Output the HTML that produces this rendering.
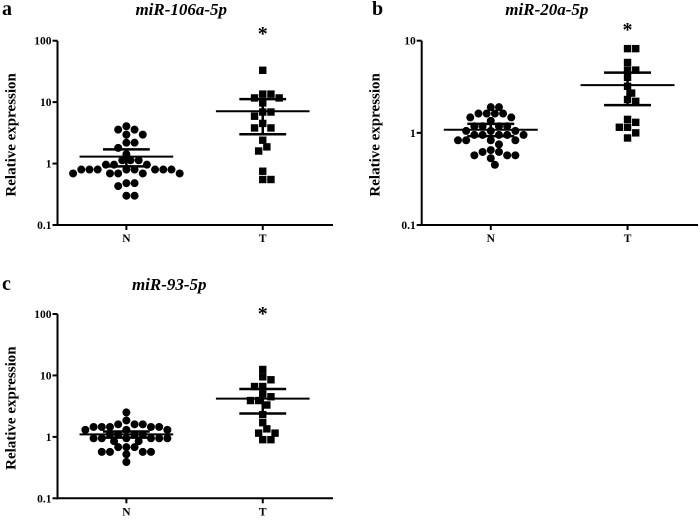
<!DOCTYPE html>
<html><head><meta charset="utf-8"><style>
body{margin:0;background:#fff}
svg{display:block;font-family:"Liberation Serif",serif}
</style></head><body>
<svg id="chart" width="700" height="525" viewBox="0 0 700 525"></svg>
<script>
// Panel a
const aN = [4.05,3.57,3.57,2.96,2.96,2.19,2.19,1.8,1.42,1.13,1.13,1.13,0.96,0.96,0.96,0.8,0.8,0.8,0.8,0.8,0.8,0.8,0.8,0.69,0.69,0.69,0.69,0.69,0.48,0.48,0.43,0.3,0.3];
const aT = [33,13.5,13.5,11.7,11.7,9.7,6.9,6.9,5.9,4.5,3.8,3.8,2.4,1.87,1.6,0.75,0.55,0.55];
const aStats = [[1.3,1.7,0.9],[7.1,11.2,3.0]]; // mean, upper, lower
// Panel b
const bN = [1.9,1.9,1.62,1.62,1.62,1.62,1.47,1.47,1.35,1.18,1.18,1.18,1.18,1.05,1.05,1.05,0.95,0.95,0.95,0.95,0.95,0.83,0.83,0.83,0.83,0.75,0.65,0.62,0.62,0.57,0.57,0.57,0.53,0.45];
const bT = [8.2,8.2,5.8,4.8,4.8,4.0,3.2,2.7,2.3,2.2,1.4,1.3,1.15,1.15,1.0,0.88];
const bStats = [[1.08,1.25,0.92],[3.3,4.5,2.0]];
// Panel c
const cN = [2.5,1.85,1.6,1.6,1.6,1.45,1.45,1.45,1.45,1.45,1.3,1.3,1.3,1.1,1.1,1.1,1.1,0.95,0.95,0.95,0.95,0.95,0.95,0.85,0.85,0.68,0.68,0.68,0.57,0.57,0.57,0.57,0.52,0.39];
const cT = [12.5,9.5,8.5,6.6,6.6,5.0,4.5,3.9,3.9,3.3,2.3,1.7,1.35,1.15,1.15,0.9,0.9];
const cStats = [[1.1,1.22,0.97],[4.2,6.0,2.4]];
const categories = ["N","T"];
const tickA = ["0.1","1","10","100"];
const tickB = ["0.1","1","10"];

const NS="http://www.w3.org/2000/svg";
const svg=document.getElementById('chart');
function mk(tag,attrs,parent){const e=document.createElementNS(NS,tag);for(const k in attrs)e.setAttribute(k,attrs[k]);(parent||svg).appendChild(e);return e;}

function panel(cfg){
  const g=mk('g',{});
  
  
  const decades=cfg.ticks.length-1;
  const y=v=>cfg.y0-(Math.log10(v)-Math.log10(0.1))/decades*(cfg.y0-cfg.yTop);
  const xc=[cfg.x0+(cfg.x1-cfg.x0)*0.25,cfg.x0+(cfg.x1-cfg.x0)*0.745];
  const ya=mk('line',{x1:cfg.x0,x2:cfg.x0,y1:cfg.yTop,y2:cfg.y0+1,stroke:'#000','stroke-width':2},g);
  
  const xa=mk('line',{x1:cfg.x0-1,x2:cfg.x1,y1:cfg.y0,y2:cfg.y0,stroke:'#000','stroke-width':2},g);
  
  cfg.ticks.forEach((t,i)=>{
    const v=Math.pow(10,i-1), yy=y(v);
    mk('line',{x1:cfg.x0-5,x2:cfg.x0,y1:yy,y2:yy,stroke:'#000','stroke-width':2},g);
    const tx=mk('text',{x:cfg.x0-6,y:yy+4,'text-anchor':'end','font-size':11.5,'font-weight':'bold'},g);
    tx.textContent=t;
    
  });
  categories.forEach((c,i)=>{
    mk('line',{x1:xc[i],x2:xc[i],y1:cfg.y0,y2:cfg.y0+5,stroke:'#000','stroke-width':2},g);
    const tx=mk('text',{x:xc[i],y:cfg.y0+17,'text-anchor':'middle','font-size':11.5,'font-weight':'bold'},g);
    tx.textContent=c;
    
  });
  const yt=mk('text',{x:0,y:0,transform:`translate(${cfg.x0-42},${(cfg.y0+cfg.yTop)/2+2}) rotate(-90)`,'text-anchor':'middle','font-size':15,'font-weight':'bold'},g);
  yt.textContent='Relative expression';
  
  const tt=mk('text',{x:(cfg.x0+cfg.x1)/2+(cfg.titleDx||0),y:cfg.titleY,'text-anchor':'middle','font-size':17,'font-weight':'bold','font-style':'italic'},g);
  tt.textContent=cfg.title;
  
  const lt=mk('text',{x:cfg.letterX,y:cfg.titleY,'font-size':20,'font-weight':'bold'},g);
  lt.textContent=cfg.letter;
  
  const st=mk('text',{x:xc[1],y:cfg.starY,'text-anchor':'middle','font-size':20,'font-weight':'bold'},g);
  st.textContent='*';
  
  [cfg.N,cfg.T].forEach((vals,gi)=>{
    const placed=[];const d=8.2;
    const sorted=vals.map(v=>y(v)).sort((p,q)=>p-q);
    sorted.forEach(py=>{
      let best=0;
      for(let k=0;k<40;k++){
        const off=(k%2?1:-1)*Math.ceil(k/2)*d/2;
        if(placed.every(p=>Math.hypot(p[0]-off,p[1]-py)>=d-1.2)){best=off;break;}
      }
      placed.push([best,py]);
      const px=xc[gi]+best;
      let m;
      if(gi===0){m=mk('circle',{cx:px,cy:py,r:4,fill:'#000'},g);}
      else{m=mk('rect',{x:px-3.7,y:py-3.7,width:7.4,height:7.4,fill:'#000'},g);}
      
    });
    const s=cfg.stats[gi];
    const hw=(cfg.x1-cfg.x0)*0.17, sw=(cfg.x1-cfg.x0)*0.085;
    const ml=mk('line',{x1:xc[gi]-hw,x2:xc[gi]+hw,y1:y(s[0]),y2:y(s[0]),stroke:'#000','stroke-width':2},g);
    
    [s[1],s[2]].forEach(v=>{
      const l=mk('line',{x1:xc[gi]-sw,x2:xc[gi]+sw,y1:y(v),y2:y(v),stroke:'#000','stroke-width':2.5},g);
      
    });
    const vl=mk('line',{x1:xc[gi],x2:xc[gi],y1:y(s[1]),y2:y(s[2]),stroke:'#000','stroke-width':2.5},g);
    
  });
}
panel({name:'panel-a',x0:57.5,x1:333,yTop:40.7,y0:225,ticks:tickA,N:aN,T:aT,stats:aStats,title:'miR-106a-5p',letter:'a',letterX:2,titleY:15,starY:40,titleDx:-14});
panel({name:'panel-b',x0:421.7,x1:698,yTop:40.7,y0:225,ticks:tickB,N:bN,T:bT,stats:bStats,title:'miR-20a-5p',letter:'b',letterX:372,titleY:15,starY:36,titleDx:-13});
panel({name:'panel-c',x0:57.5,x1:333,yTop:314,y0:498.3,ticks:tickA,N:cN,T:cT,stats:cStats,title:'miR-93-5p',letter:'c',letterX:2,titleY:290,starY:320,titleDx:-26});
</script>
</body></html>
